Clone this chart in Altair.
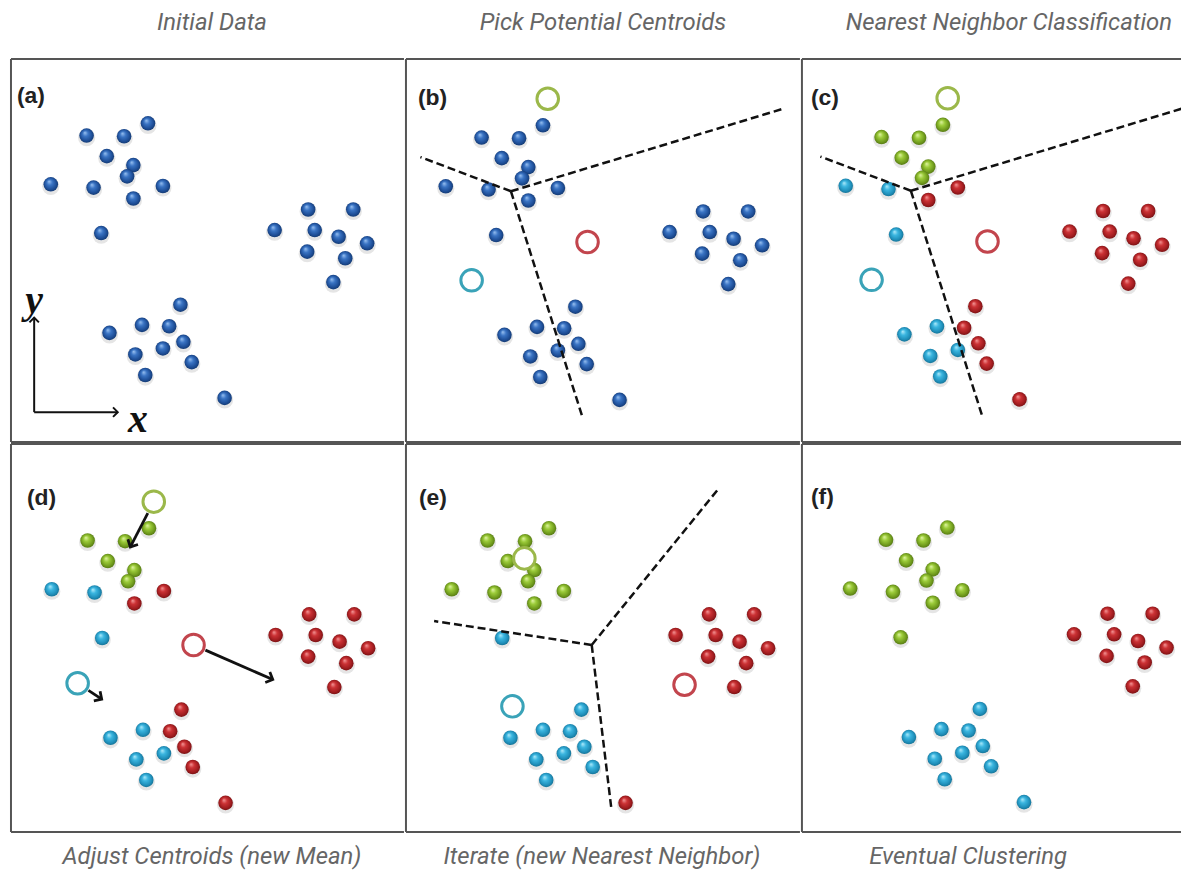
import math
import altair as alt
import pandas as pd

# ---------------- data (content coordinates, y pointing up) ----------------
PX = [137.7, 76, 113.7, 96.3, 123, 116.7, 40, 83, 152.7, 123, 90.7,
      298.7, 344, 265, 305.3, 329.3, 358, 297.7, 336, 324,
      170.3, 99, 131.7, 159, 173.3, 152.7, 125, 181.7, 135, 214.7]
PY = [320.3, 308, 307.3, 287.3, 278.3, 267, 259, 255.7, 257.3, 244.7, 210,
      233.7, 233.7, 213, 213, 206.3, 199.7, 191.3, 184.7, 160.7,
      138, 109.7, 117.7, 116.3, 100.7, 94, 88, 80.3, 67.3, 44.3]

CLS_A = ["B"] * 30
CLS_B = ["B"] * 30
CLS_C = (["G"] * 6 + ["C", "C", "R", "R", "C"] + ["R"] * 9 +
         ["R", "C", "C", "R", "R", "C", "C", "R", "C", "R"])
CLS_D = list(CLS_C)
CLS_E = ["G"] * 10 + ["C"] + ["R"] * 9 + ["C"] * 9 + ["R"]
CLS_F = ["G"] * 11 + ["R"] * 9 + ["C"] * 10

CENT_NAMES = ["G", "R", "C"]
CENT_OLD_X = [142.5, 182.5, 66]
CENT_OLD_Y = [347, 203, 164.5]
CENT_NEW_X = [113, 274, 101]
CENT_NEW_Y = [290, 163, 141.3]

# Voronoi boundaries: junction + three arm ends
VOR_BC = {"jx": 105.5, "jy": 254, "ex": [14.5, 381, 177.3], "ey": [288.4, 337.5, 27.3]}
VOR_E = {"jx": 180.7, "jy": 203, "ex": [22.3, 307.3, 200.7], "ey": [227, 359, 36.3]}

# axis arrows of panel (a)
AX_CORNER = (23.3, 30)
AX_TIPS_X = [23.3, 107.3]
AX_TIPS_Y = [125, 30]
AX_LETTERS = ["y", "x"]
AX_LETTER_X = [23.3, 127.5]
AX_LETTER_Y = [141.3, 22]

LABELS = ["(a)", "(b)", "(c)", "(d)", "(e)", "(f)"]
LABEL_X = [6, 12, 5, 15, 7, 0.5]
LABEL_Y = [348, 348, 347.5, 351, 351, 351.3]

TITLES = ["Initial Data", "Pick Potential Centroids", "Nearest Neighbor Classification",
          "Adjust Centroids (new Mean)", "Iterate (new Nearest Neighbor)", "Eventual Clustering"]
TITLE_DX = [4.5, 0, 17.5, 4.5, -1, -23.5]

# panel windows (domains)
DOM_X = [(0, 395), (0, 396), (-4, 377), (-1, 394), (-6, 390), (-8.5, 372.5)]
DOM_Y = [(0, 385), (2, 387), (1.5, 386.5), (15, 405), (15, 405), (14.3, 404.3)]

# ---------------- styles ----------------
SPHERE = {
    "B": ["#9cc3f2", "#3a74c4", "#1d4d96", "#143566"],
    "G": ["#e2f5a8", "#9ccc3a", "#6f9a1c", "#4e6e12"],
    "R": ["#f49a9a", "#cc3235", "#a01c1f", "#6c1012"],
    "C": ["#b4ecfb", "#3bb6e0", "#1f8fba", "#146a8a"],
}
RING = {"G": "#9bb84a", "R": "#c2454d", "C": "#3aa3b8"}
FRAME = "#555555"


def sphere_fill(code):
    c = SPHERE[code]
    return alt.RadialGradient(
        gradient="radial", x1=0.38, y1=0.3, r1=0.0, x2=0.5, y2=0.5, r2=0.55,
        stops=[alt.GradientStop(offset=0, color=c[0]),
               alt.GradientStop(offset=0.35, color=c[1]),
               alt.GradientStop(offset=0.75, color=c[2]),
               alt.GradientStop(offset=1, color=c[3])])


CHEVRON = "M-1,-1L0,0L-1,1"


def arrow_frame(x0, y0, x1, y1):
    rows = []
    for a, b, c, d in zip(x0, y0, x1, y1):
        ang = math.degrees(math.atan2(-(d - b), c - a)) % 360
        rows.append({"x": a, "y": b, "x2": c, "y2": d, "ang": ang})
    return pd.DataFrame(rows)


def frame_layers(w, h):
    one = alt.Chart(pd.DataFrame({"k": [0]}))
    m = dict(color=FRAME, strokeWidth=2)
    return [
        one.mark_rule(**m).encode(x=alt.value(0), x2=alt.value(w), y=alt.value(0)),
        one.mark_rule(**m).encode(x=alt.value(0), x2=alt.value(w), y=alt.value(h)),
        one.mark_rule(**m).encode(x=alt.value(0), y=alt.value(0), y2=alt.value(h)),
    ]


def ring_layer(df, code, X, Y):
    return (alt.Chart(df).transform_filter(alt.datum.c == code)
            .mark_point(shape="circle", filled=False, fill="white", fillOpacity=1,
                        stroke=RING[code], strokeWidth=3, size=470, opacity=1)
            .encode(x=X("x"), y=Y("y")))


def panel(i, cls, rings=None, moves=False, vor=None, axes=False, w=395, h=385, bottom=False):
    sx = alt.Scale(domain=list(DOM_X[i]), nice=False, zero=False)
    sy = alt.Scale(domain=list(DOM_Y[i]), nice=False, zero=False)
    X = lambda f: alt.X(f, type="quantitative", scale=sx, axis=None)
    Y = lambda f: alt.Y(f, type="quantitative", scale=sy, axis=None)
    layers = []

    pts = pd.DataFrame({"x": PX, "y": PY, "cls": cls})
    base = alt.Chart(pts)
    layers.append(base.mark_circle(color="#000", opacity=0.10, size=300, yOffset=2)
                  .encode(x=X("x"), y=Y("y")))
    for code in ["B", "G", "R", "C"]:
        if code in cls:
            layers.append(base.transform_filter(alt.datum.cls == code)
                          .mark_circle(fill=sphere_fill(code), opacity=1, size=215)
                          .encode(x=X("x"), y=Y("y")))

    if vor is not None:
        segs = pd.DataFrame({"x": [vor["jx"]] * 3, "y": [vor["jy"]] * 3,
                             "x2": vor["ex"], "y2": vor["ey"]})
        layers.append(alt.Chart(segs).mark_rule(color="#111", strokeWidth=2.5,
                                                strokeDash=[8, 4], clip=True)
                      .encode(x=X("x"), y=Y("y"), x2="x2", y2="y2"))

    if moves:
        r = 13
        sx0, sy0, ex, ey = [], [], [], []
        for a, b, c, d in zip(CENT_OLD_X, CENT_OLD_Y, CENT_NEW_X, CENT_NEW_Y):
            L = math.hypot(c - a, d - b)
            ux, uy = (c - a) / L, (d - b) / L
            sx0.append(a + ux * r); sy0.append(b + uy * r)
            ex.append(c - ux * r); ey.append(d - uy * r)
        adf = arrow_frame(sx0, sy0, ex, ey)
        layers.append(alt.Chart(adf).mark_rule(color="#111", strokeWidth=2.8)
                      .encode(x=X("x"), y=Y("y"), x2="x2", y2="y2"))
        layers.append(alt.Chart(adf).mark_point(shape=CHEVRON, filled=False, color="#111",
                                                strokeWidth=2.8, size=130, opacity=1)
                      .encode(x=X("x2"), y=Y("y2"),
                              angle=alt.Angle("ang:Q", scale=None)))
        old = pd.DataFrame({"x": CENT_OLD_X, "y": CENT_OLD_Y, "c": CENT_NAMES})
        for code in CENT_NAMES:
            layers.append(ring_layer(old, code, X, Y))

    if rings is not None:
        rx, ry = rings
        rdf = pd.DataFrame({"x": rx, "y": ry, "c": CENT_NAMES})
        for code in CENT_NAMES:
            layers.append(ring_layer(rdf, code, X, Y))

    if axes:
        cx, cy = AX_CORNER
        adf = arrow_frame([cx, cx], [cy, cy], AX_TIPS_X, AX_TIPS_Y)
        layers.append(alt.Chart(adf).mark_rule(color="#111", strokeWidth=2)
                      .encode(x=X("x"), y=Y("y"), x2="x2", y2="y2"))
        layers.append(alt.Chart(adf).mark_point(shape=CHEVRON, filled=False, color="#111",
                                                strokeWidth=2, size=90, opacity=1)
                      .encode(x=X("x2"), y=Y("y2"),
                              angle=alt.Angle("ang:Q", scale=None)))
        ldf = pd.DataFrame({"x": AX_LETTER_X, "y": AX_LETTER_Y, "t": AX_LETTERS})
        layers.append(alt.Chart(ldf).mark_text(font="Liberation Serif", fontStyle="italic",
                                               fontWeight="bold", fontSize=40, color="#111",
                                               baseline="middle", align="center")
                      .encode(x=X("x"), y=Y("y"), text="t:N"))

    lab = pd.DataFrame({"x": [LABEL_X[i]], "y": [LABEL_Y[i]], "t": [LABELS[i]]})
    layers.append(alt.Chart(lab).mark_text(font="Liberation Sans", fontWeight="bold",
                                           fontSize=23, color="#222", align="left",
                                           baseline="middle")
                  .encode(x=X("x"), y=Y("y"), text="t:N"))

    layers += frame_layers(w, h)

    title = alt.TitleParams(TITLES[i], orient="bottom" if bottom else "top",
                            offset=12 if bottom else 4.5, dx=TITLE_DX[i],
                            baseline="alphabetic" if not bottom else "top")
    return alt.layer(*layers).properties(width=w, height=h, title=title)


top = alt.hconcat(
    panel(0, CLS_A, w=395, h=385, axes=True),
    panel(1, CLS_B, rings=(CENT_OLD_X, CENT_OLD_Y), vor=VOR_BC, w=396, h=385),
    panel(2, CLS_C, rings=(CENT_OLD_X, CENT_OLD_Y), vor=VOR_BC, w=381, h=385),
    spacing=0)
bottom = alt.hconcat(
    panel(3, CLS_D, moves=True, w=395, h=390, bottom=True),
    panel(4, CLS_E, rings=(CENT_NEW_X, CENT_NEW_Y), vor=VOR_E, w=396, h=390, bottom=True),
    panel(5, CLS_F, w=381, h=390, bottom=True),
    spacing=0)

chart = (alt.vconcat(top, bottom, spacing=0)
         .properties(padding={"left": 2, "top": 0, "right": 0, "bottom": 0},
                     background="white")
         .configure_view(stroke="transparent", strokeWidth=0)
         .configure_concat(spacing=0)
         .configure_title(font="Roboto", fontStyle="italic", fontSize=24,
                          color="#666", fontWeight="normal", anchor="middle"))

chart.save("out.html", embed_options={"renderer": "svg", "actions": False})
